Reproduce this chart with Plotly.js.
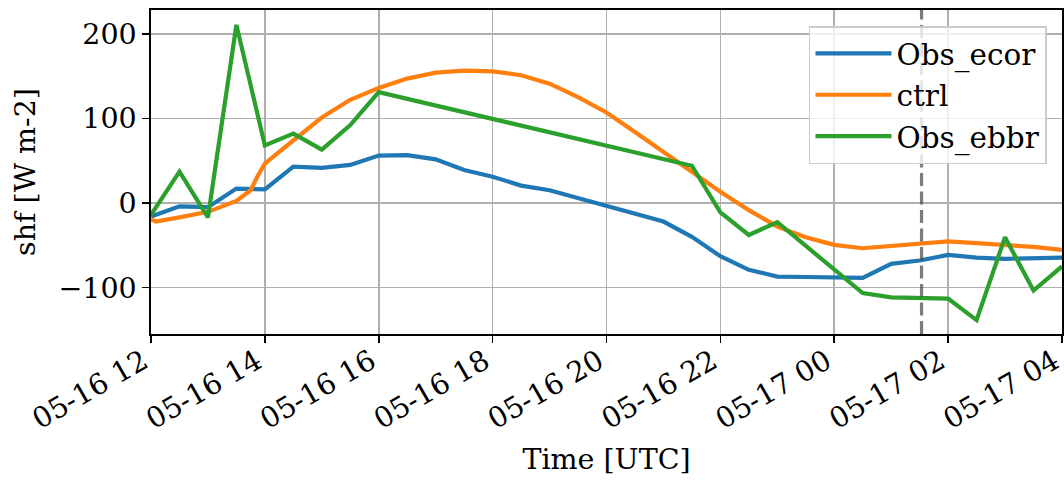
<!DOCTYPE html>
<html>
<head>
<meta charset="utf-8">
<script src="https://cdn.plot.ly/plotly-3.0.1.min.js"></script>
<style>html,body{margin:0;padding:0;background:#fff;}#chart{width:1064px;height:484px;}</style>
</head>
<body>
<div id="chart"></div>
<script>
// Half-hourly observation times
const obsTimes = [
  "2023-05-16 12:00","2023-05-16 12:30","2023-05-16 13:00","2023-05-16 13:30",
  "2023-05-16 14:00","2023-05-16 14:30","2023-05-16 15:00","2023-05-16 15:30",
  "2023-05-16 16:00","2023-05-16 16:30","2023-05-16 17:00","2023-05-16 17:30",
  "2023-05-16 18:00","2023-05-16 18:30","2023-05-16 19:00","2023-05-16 19:30",
  "2023-05-16 20:00","2023-05-16 20:30","2023-05-16 21:00","2023-05-16 21:30",
  "2023-05-16 22:00","2023-05-16 22:30","2023-05-16 23:00","2023-05-16 23:30",
  "2023-05-17 00:00","2023-05-17 00:30","2023-05-17 01:00","2023-05-17 01:30",
  "2023-05-17 02:00","2023-05-17 02:30","2023-05-17 03:00","2023-05-17 03:30",
  "2023-05-17 04:00"
];
const obsEcor = [
  -16, -4, -5, 17, 16, 43, 41.5, 45, 56, 56.5, 51.5, 39,
  31, 20.5, 15, 5.5, -4, -13, -22, -40, -63, -79, -87, -87.5,
  -88, -88.5, -72, -68, -61.5, -64.5, -66, -65, -64.5
];
const obsEbbr = [
  -14, 37, -17, 210.5, 68, 82, 63, 92, 131, null, null, null,
  null, null, null, null, null, null, null, 44, -11, -37.8, -22.8, null,
  null, -106.5, -111.5, -112, -113, -138.5, -40.5, -103.5, -75
];
// Model (ctrl) times and values
const ctrlTimes = [
  "2023-05-16 12:00","2023-05-16 12:05","2023-05-16 12:30","2023-05-16 13:00",
  "2023-05-16 13:30","2023-05-16 13:45","2023-05-16 13:52","2023-05-16 14:00",
  "2023-05-16 14:15","2023-05-16 14:30","2023-05-16 15:00","2023-05-16 15:30",
  "2023-05-16 16:00","2023-05-16 16:30","2023-05-16 17:00","2023-05-16 17:30",
  "2023-05-16 18:00","2023-05-16 18:30","2023-05-16 19:00","2023-05-16 19:30",
  "2023-05-16 20:00","2023-05-16 20:30","2023-05-16 21:00","2023-05-16 21:30",
  "2023-05-16 22:00","2023-05-16 22:30","2023-05-16 23:00","2023-05-16 23:30",
  "2023-05-17 00:00","2023-05-17 00:30","2023-05-17 01:00","2023-05-17 01:30",
  "2023-05-17 02:00","2023-05-17 02:30","2023-05-17 03:00","2023-05-17 03:30",
  "2023-05-17 04:00"
];
const ctrlVals = [
  -19, -22, -17, -10.5, 2.5, 15, 31, 46.5, 60.5, 74, 101, 122,
  136, 147, 154, 156.5, 155.5, 151, 141, 125, 107, 84, 60.5, 37,
  13.3, -8.5, -28, -40.5, -49.5, -53.5, -51, -47.5, -45.5, -47.5, -49.5, -52, -55.5
];
const seriesNames = ["Obs_ecor", "ctrl", "Obs_ebbr"];
const seriesColors = ["#1f77b4", "#ff7f0e", "#2ca02c"];
const markerTime = "2023-05-17 01:32";
const xTickVals = [
  "2023-05-16 12:00","2023-05-16 14:00","2023-05-16 16:00","2023-05-16 18:00",
  "2023-05-16 20:00","2023-05-16 22:00","2023-05-17 00:00","2023-05-17 02:00",
  "2023-05-17 04:00"
];
const xTickText = [
  "05-16 12","05-16 14","05-16 16","05-16 18","05-16 20",
  "05-16 22","05-17 00","05-17 02","05-17 04"
];
const xRange = ["2023-05-16 12:00", "2023-05-17 04:00:02"];
const yRange = [-154.9, 228.1];
const yTicks = [-100, 0, 100, 200];
const yTickText = ["\u2212100", "0", "100", "200"];

const FONT = "DejaVu Serif, serif";
const FS = 28.5;

const traces = [
  {x: obsTimes, y: obsEcor, name: seriesNames[0], legendgroup: "a", type: "scatter", mode: "lines",
   line: {color: seriesColors[0], width: 4.2}},
  {x: ctrlTimes, y: ctrlVals, name: seriesNames[1], legendgroup: "b", type: "scatter", mode: "lines",
   line: {color: seriesColors[1], width: 4.2}},
  {x: obsTimes, y: obsEbbr, name: seriesNames[2], legendgroup: "c", type: "scatter", mode: "lines",
   connectgaps: true, line: {color: seriesColors[2], width: 4.2}}
];

const layout = {
  width: 1064, height: 484,
  margin: {l: 151, r: 2, t: 10, b: 150, pad: 0},
  paper_bgcolor: "#fff", plot_bgcolor: "#fff",
  font: {family: FONT, size: FS, color: "#000"},
  showlegend: true,
  legend: {
    x: 0.9835, xanchor: "right", y: 0.95, yanchor: "top",
    bgcolor: "rgba(255,255,255,0.8)", bordercolor: "#cccccc", borderwidth: 1.5,
    font: {family: FONT, size: 29.5, color: "#000"},
    itemwidth: 76, tracegroupgap: 3, traceorder: "normal"
  },
  xaxis: {
    type: "date", range: xRange,
    tickmode: "array", tickvals: xTickVals, ticktext: xTickText,
    tickangle: -30, ticks: "outside", ticklen: 7, tickwidth: 1.6, tickcolor: "#000",
    ticklabeloverflow: "allow", ticklabelstandoff: -9, ticklabelshift: -8,
    showgrid: true, gridcolor: "#b0b0b0", gridwidth: 1.6,
    showline: true, linecolor: "#000", linewidth: 1.6, mirror: true,
    zeroline: false, automargin: false,
    tickfont: {family: FONT, size: FS},
    title: {text: "Time [UTC]", font: {family: FONT, size: FS}, standoff: 14}
  },
  yaxis: {
    range: yRange, tickvals: yTicks, ticktext: yTickText,
    ticks: "outside", ticklen: 7, tickwidth: 1.6, tickcolor: "#000",
    showgrid: true, gridcolor: "#b0b0b0", gridwidth: 1.6,
    showline: true, linecolor: "#000", linewidth: 1.6, mirror: true,
    zeroline: false, automargin: false,
    tickfont: {family: FONT, size: FS},
    title: {text: "shf [W m-2]", font: {family: FONT, size: FS}, standoff: 14}
  },
  shapes: [{
    type: "line", xref: "x", yref: "paper", x0: markerTime, x1: markerTime, y0: 0, y1: 1,
    line: {color: "rgba(80,80,80,0.75)", width: 3.2, dash: "13px,5.5px"}
  }]
};

Plotly.newPlot("chart", traces, layout, {displayModeBar: false, staticPlot: true});
</script>
</body>
</html>
